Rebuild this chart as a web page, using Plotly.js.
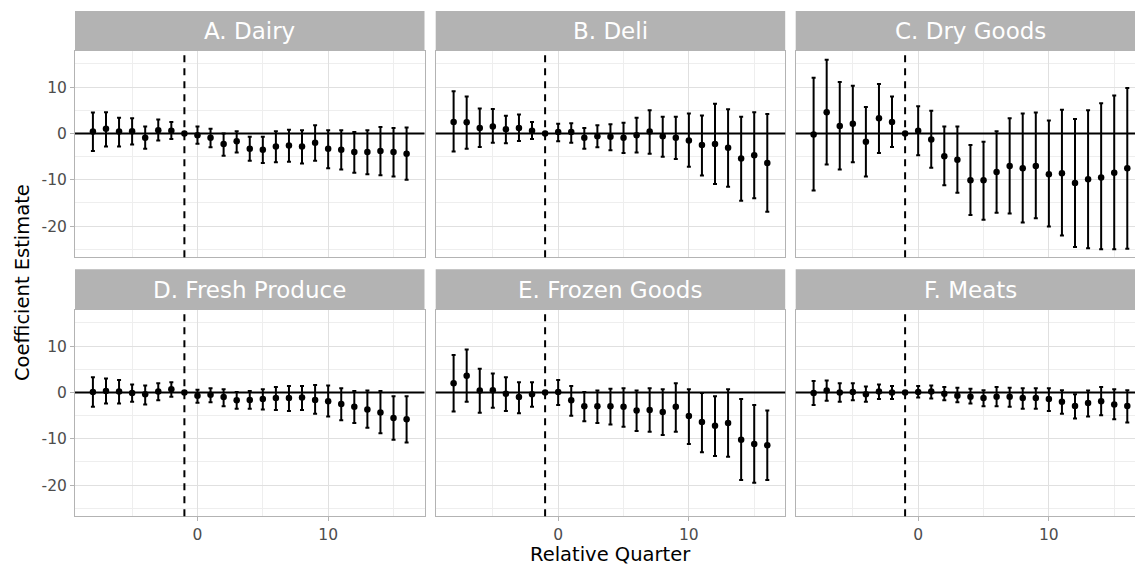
<!DOCTYPE html>
<html>
<head>
<meta charset="utf-8">
<script src="https://cdn.plot.ly/plotly-3.0.1.min.js"></script>
<style>
html, body { margin: 0; padding: 0; overflow: hidden; background: #ffffff; }
#chart { width: 1146px; height: 567px; }
</style>
</head>
<body>
<div id="chart"></div>
<script>
// ---- data ----
const quarters = [-8, -7, -6, -5, -4, -3, -2, -1, 0, 1, 2, 3, 4, 5, 6, 7, 8, 9, 10, 11, 12, 13, 14, 15, 16];
const panelTitles = ["A. Dairy", "B. Deli", "C. Dry Goods", "D. Fresh Produce", "E. Frozen Goods", "F. Meats"];
const xTickVals = [0, 10];
const yTickVals = [-20, -10, 0, 10];
const refQuarter = -1;

const dairyEst = [0.4, 1.0, 0.4, 0.5, -0.9, 0.7, 0.6, 0, -0.4, -0.9, -2.3, -1.7, -3.3, -3.5, -2.8, -2.6, -2.8, -2.0, -3.3, -3.5, -4.0, -4.0, -3.8, -4.0, -4.4];
const dairyHi  = [4.5, 4.6, 3.4, 3.3, 1.5, 3.0, 2.5, 0, 1.5, 1.0, 0.0, 0.5, -0.7, -0.7, 0.5, 0.8, 0.7, 1.8, 0.7, 0.7, 0.3, 0.7, 1.4, 1.2, 1.3];
const dairyLo  = [-3.8, -2.8, -2.8, -2.4, -3.3, -1.5, -1.2, 0, -2.2, -3.0, -4.8, -4.1, -5.9, -6.4, -6.2, -6.1, -6.5, -5.9, -7.5, -7.8, -8.5, -8.8, -9.0, -9.3, -10.0];

const deliEst = [2.5, 2.4, 1.2, 1.5, 0.9, 1.2, 0.6, 0, 0.3, 0.3, -0.9, -0.6, -0.7, -0.9, -0.4, 0.4, -0.6, -0.9, -1.5, -2.5, -2.3, -3.1, -5.4, -4.7, -6.4];
const deliHi  = [9.1, 8.0, 5.4, 5.3, 3.8, 4.1, 2.5, 0, 2.1, 2.2, 1.2, 1.8, 2.0, 2.3, 3.4, 5.0, 3.6, 3.6, 4.3, 3.9, 6.4, 5.2, 3.6, 4.6, 4.2];
const deliLo  = [-3.9, -3.3, -2.9, -2.0, -2.1, -1.6, -1.2, 0, -1.7, -2.0, -3.3, -3.0, -3.6, -4.2, -4.1, -4.4, -5.0, -5.5, -7.2, -9.1, -10.9, -11.5, -14.5, -14.0, -16.9];

const dryEst = [-0.2, 4.6, 1.6, 2.1, -1.8, 3.3, 2.5, 0, 0.6, -1.3, -4.9, -5.7, -10.1, -10.1, -8.3, -7.0, -7.5, -7.0, -8.8, -8.6, -10.7, -9.9, -9.5, -8.5, -7.5];
const dryHi  = [12.0, 15.9, 11.1, 10.3, 5.7, 10.7, 8.0, 0, 5.9, 4.9, 1.5, 1.5, -2.5, -1.8, 0.5, 3.3, 4.3, 4.5, 2.8, 5.1, 3.1, 5.0, 6.5, 8.2, 9.8];
const dryLo  = [-12.3, -6.7, -7.8, -6.2, -9.3, -4.2, -2.9, 0, -4.7, -7.4, -11.2, -12.8, -17.6, -18.6, -17.1, -17.3, -19.2, -18.3, -20.1, -22.0, -24.5, -24.8, -25.0, -25.0, -24.9];

const produceEst = [0.1, 0.3, 0.2, -0.1, -0.4, 0.2, 0.7, 0, -0.7, -0.5, -1.0, -1.7, -1.6, -1.4, -1.2, -1.2, -1.1, -1.6, -1.9, -2.5, -3.1, -3.7, -4.3, -5.5, -5.8];
const produceHi  = [3.3, 3.0, 2.7, 1.7, 1.5, 2.0, 2.2, 0, 0.6, 0.9, 0.7, 0.1, 0.3, 0.7, 1.2, 1.4, 1.4, 1.6, 1.5, 0.9, 0.3, 0.4, 0.3, -0.8, -0.8];
const produceLo  = [-3.1, -2.4, -2.4, -2.0, -2.6, -1.7, -0.9, 0, -2.2, -2.1, -3.0, -3.5, -3.5, -3.7, -3.8, -4.0, -3.8, -4.6, -5.2, -6.0, -6.6, -7.6, -8.8, -10.2, -10.8];

const frozenEst = [2.0, 3.6, 0.4, 0.5, -0.3, -1.0, -0.4, 0, 0.1, -1.7, -3.0, -3.0, -3.0, -3.1, -3.9, -3.8, -4.2, -3.1, -5.1, -6.4, -7.2, -6.6, -10.2, -11.1, -11.4];
const frozenHi  = [8.1, 9.3, 5.1, 4.1, 3.3, 2.2, 2.2, 0, 2.7, 1.4, 0.1, 0.4, 0.8, 0.9, 0.4, 0.9, 0.7, 2.0, 0.7, -0.1, -0.8, 0.7, -1.4, -2.7, -3.9];
const frozenLo  = [-4.1, -2.0, -4.4, -3.3, -4.0, -4.5, -3.1, 0, -2.7, -5.0, -6.2, -6.6, -6.9, -7.4, -8.3, -8.5, -9.2, -8.5, -11.1, -12.9, -13.7, -13.9, -18.9, -19.5, -18.9];

const meatsEst = [-0.1, 0.4, 0.0, 0.1, -0.4, 0.2, 0.0, 0, 0.1, 0.2, -0.3, -0.7, -0.9, -1.2, -0.9, -0.9, -1.2, -1.2, -1.4, -2.0, -2.9, -2.3, -1.9, -2.6, -2.9];
const meatsHi  = [2.5, 2.6, 2.0, 2.0, 1.3, 1.7, 1.4, 0, 1.4, 1.5, 1.2, 1.0, 0.8, 0.5, 1.2, 1.0, 0.9, 0.9, 0.9, 0.5, -0.4, 0.4, 1.2, 0.7, 0.5];
const meatsLo  = [-2.7, -1.8, -2.0, -1.7, -2.0, -1.4, -1.4, 0, -1.1, -1.3, -1.7, -2.1, -2.4, -3.0, -3.0, -3.1, -3.5, -3.5, -4.0, -4.6, -5.6, -5.2, -4.9, -5.8, -6.5];

const panelEst = [dairyEst, deliEst, dryEst, produceEst, frozenEst, meatsEst];
const panelHi  = [dairyHi, deliHi, dryHi, produceHi, frozenHi, meatsHi];
const panelLo  = [dairyLo, deliLo, dryLo, produceLo, frozenLo, meatsLo];

// ---- geometry (pixels) ----
const W = 1146, H = 567;
const colX = [[75, 424.5], [435.7, 785.2], [795.7, 1145.2]];
const rowPlotY = [[51, 257.3], [310, 516.3]];
const rowStripY = [[11, 51], [269.3, 310]];
const fx = p => p / W;
const fy = p => 1 - p / H;

const FONT = "DejaVu Sans, Liberation Sans, sans-serif";
const GRID = "#e0e0e0", MINOR = "#eeeeee", BORDER = "#b3b3b3";

const traces = [];
const layout = {
  width: W, height: H,
  margin: {l: 0, r: 0, t: 0, b: 0},
  paper_bgcolor: "#ffffff",
  plot_bgcolor: "#ffffff",
  showlegend: false,
  font: {family: FONT, color: "#000000"},
  shapes: [],
  annotations: []
};

for (let i = 0; i < 6; i++) {
  const r = Math.floor(i / 3), c = i % 3;
  const n = i + 1;
  const xa = n === 1 ? "xaxis" : "xaxis" + n;
  const ya = n === 1 ? "yaxis" : "yaxis" + n;
  const xr = n === 1 ? "x" : "x" + n;
  const yr = n === 1 ? "y" : "y" + n;
  const est = panelEst[i], hi = panelHi[i], lo = panelLo[i];

  traces.push({
    type: "scatter", mode: "markers",
    x: quarters, y: est,
    xaxis: xr, yaxis: yr,
    marker: {color: "#000000", size: 6.5},
    error_y: {
      type: "data", symmetric: false,
      array: hi.map((h, k) => h - est[k]),
      arrayminus: lo.map((l, k) => est[k] - l),
      color: "#000000", thickness: 2, width: 2
    },
    hoverinfo: "x+y"
  });

  layout[xa] = {
    domain: [fx(colX[c][0]), fx(colX[c][1])],
    anchor: yr,
    range: [-9.37, 17.37],
    tickvals: xTickVals,
    ticktext: xTickVals.map(String),
    showticklabels: r === 1,
    ticks: r === 1 ? "outside" : "",
    ticklen: 4, tickcolor: BORDER, tickwidth: 1,
    tickfont: {family: FONT, size: 15.5, color: "#4d4d4d"},
    showgrid: true, gridcolor: GRID, gridwidth: 1,
    minor: {dtick: 5, tick0: 0, showgrid: true, gridcolor: MINOR, gridwidth: 1, ticks: ""},
    zeroline: false,
    showline: true, mirror: true, linecolor: BORDER, linewidth: 1,
    automargin: false, fixedrange: true
  };
  layout[ya] = {
    domain: [fy(rowPlotY[r][1]), fy(rowPlotY[r][0])],
    anchor: xr,
    range: [-26.73, 17.8],
    tickvals: yTickVals,
    ticktext: yTickVals.map(String),
    showticklabels: c === 0,
    ticks: c === 0 ? "outside" : "",
    ticklen: 4, tickcolor: BORDER, tickwidth: 1,
    tickfont: {family: FONT, size: 15.5, color: "#4d4d4d"},
    showgrid: true, gridcolor: GRID, gridwidth: 1,
    minor: {dtick: 5, tick0: 0, showgrid: true, gridcolor: MINOR, gridwidth: 1, ticks: ""},
    zeroline: false,
    showline: true, mirror: true, linecolor: BORDER, linewidth: 1,
    automargin: false, fixedrange: true
  };

  // horizontal zero reference line
  layout.shapes.push({
    type: "line", xref: xr + " domain", yref: yr,
    x0: 0, x1: 1, y0: 0, y1: 0,
    line: {color: "#000000", width: 2},
    layer: "above"
  });

  // dashed reference line at the omitted quarter
  layout.shapes.push({
    type: "line", xref: xr, yref: yr + " domain",
    x0: refQuarter, x1: refQuarter, y0: 0, y1: 1,
    line: {color: "#000000", width: 2, dash: "7px,6px"},
    layer: "above"
  });

  // strip background
  layout.shapes.push({
    type: "rect", xref: "paper", yref: "paper",
    x0: fx(colX[c][0]), x1: fx(colX[c][1]),
    y0: fy(rowStripY[r][1]), y1: fy(rowStripY[r][0]),
    fillcolor: "#b3b3b3", line: {width: 0}, layer: "above"
  });
  layout.annotations.push({
    xref: "paper", yref: "paper",
    x: fx((colX[c][0] + colX[c][1]) / 2),
    y: fy((rowStripY[r][0] + rowStripY[r][1]) / 2),
    xanchor: "center", yanchor: "middle",
    text: panelTitles[i], showarrow: false,
    font: {family: FONT, size: 23, color: "#ffffff"}
  });
}

// axis titles
layout.annotations.push({
  xref: "paper", yref: "paper",
  x: fx((75 + 1145.2) / 2), y: fy(554.5),
  xanchor: "center", yanchor: "middle",
  text: "Relative Quarter", showarrow: false,
  font: {family: FONT, size: 19.5, color: "#000000"}
});
layout.annotations.push({
  xref: "paper", yref: "paper",
  x: fx(22), y: fy(283),
  xanchor: "center", yanchor: "middle",
  text: "Coefficient Estimate", showarrow: false, textangle: -90,
  font: {family: FONT, size: 19.5, color: "#000000"}
});

Plotly.newPlot("chart", traces, layout, {displayModeBar: false, staticPlot: true});
</script>
</body>
</html>
